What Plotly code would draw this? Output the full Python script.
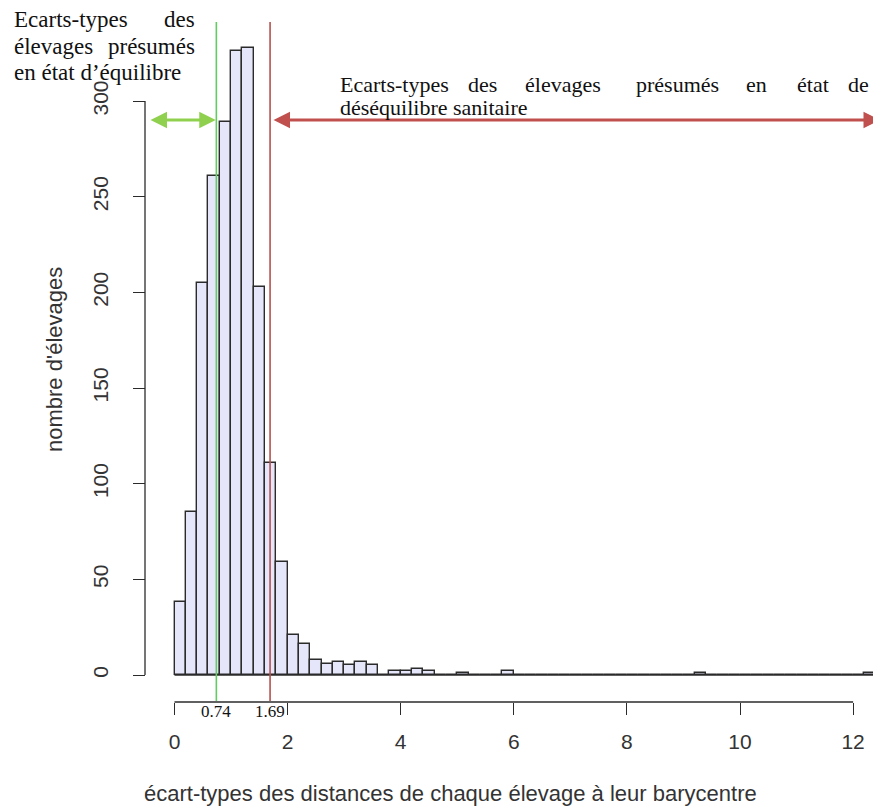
import numpy as np
import plotly.graph_objects as go

# ---------------- data ----------------
bin_start = 0.0
bin_width = 0.2
counts = [38, 85, 205, 261, 289, 326, 328, 203, 111, 59,
          21, 16, 8, 6, 7, 5, 7, 5, 0, 2,
          2, 3, 2, 0, 0, 1, 0, 0, 0, 2,
          0, 0, 0, 0, 0, 0, 0, 0, 0, 0,
          0, 0, 0, 0, 0, 0, 1, 0, 0, 0,
          0, 0, 0, 0, 0, 0, 0, 0, 0, 0,
          0, 1]
green_value = 0.74
red_value = 1.69
x_ticks = [0, 2, 4, 6, 8, 10, 12]
x_ticklabels = ["0", "2", "4", "6", "8", "10", "12"]
y_ticks = [0, 50, 100, 150, 200, 250, 300]
y_ticklabels = ["0", "50", "100", "150", "200", "250", "300"]
x_title = "écart-types des distances de chaque élevage à leur barycentre"
y_title = "nombre d'élevages"
left_lines = [["Ecarts-types", "des"], ["élevages", "présumés"], ["en état d’équilibre"]]
right_line1 = ["Ecarts-types", "des", "élevages", "présumés", "en", "état", "de"]
right_line2 = "déséquilibre sanitaire"

# ---------------- geometry (page pixels) ----------------
PAGE_W, PAGE_H = 881, 810
OFF = 8                      # default body margin of the html page
W, H = PAGE_W - OFF, PAGE_H - OFF
X0, XS = 174.5, 56.55        # page pixel of x=0, pixels per unit
Y0, YS = 675.0, 1.913        # page pixel of y=0, pixels per unit

def xv(px):
    return (px - X0) / XS

def yv(py):
    return (Y0 - py) / YS

def px_(px):
    return (px - OFF) / W

def py_(py):
    return 1 - (py - OFF) / H

counts = np.array(counts, dtype=float)
edges = bin_start + bin_width * np.arange(len(counts) + 1)
centers = (edges[:-1] + edges[1:]) / 2

fig = go.Figure()
fig.add_trace(go.Bar(
    x=centers, y=counts, width=bin_width,
    marker=dict(color="#E6E6FA", line=dict(color="#2b2b2b", width=1.4)),
    hoverinfo="skip", showlegend=False,
))

axis_color = "#2b2b2b"
txt_color = "#333333"
shapes = [
    dict(type="line", xref="x", yref="y", x0=edges[0], x1=edges[-1], y0=0, y1=0,
         line=dict(color=axis_color, width=1.4)),
    dict(type="line", xref="x", yref="paper", x0=x_ticks[0], x1=x_ticks[-1],
         y0=py_(702), y1=py_(702), line=dict(color=axis_color, width=1.3)),
    dict(type="line", xref="paper", yref="y", x0=px_(145), x1=px_(145),
         y0=y_ticks[0], y1=y_ticks[-1], line=dict(color=axis_color, width=1.3)),
    dict(type="line", xref="x", yref="y", x0=green_value, x1=green_value,
         y0=yv(701), y1=yv(22), line=dict(color="#62cc62", width=1.6)),
    dict(type="line", xref="x", yref="y", x0=red_value, x1=red_value,
         y0=yv(701), y1=yv(22), line=dict(color="#b5504e", width=1.6)),
]

annotations = []
# double-headed arrows
arrow_y = yv(120)
annotations.append(dict(x=green_value - 0.01, y=arrow_y, ax=xv(149), ay=arrow_y,
                        xref="x", yref="y", axref="x", ayref="y", text="",
                        showarrow=True, arrowside="end+start", arrowhead=2,
                        startarrowhead=2, arrowsize=1.1, startarrowsize=1.1,
                        arrowwidth=3, arrowcolor="#8fd14f", standoff=0, startstandoff=0))
annotations.append(dict(x=xv(880), y=arrow_y, ax=xv(272), ay=arrow_y,
                        xref="x", yref="y", axref="x", ayref="y", text="",
                        showarrow=True, arrowside="end+start", arrowhead=2,
                        startarrowhead=2, arrowsize=1.1, startarrowsize=1.1,
                        arrowwidth=3, arrowcolor="#c0504d", standoff=0, startstandoff=0))

def word(text, x, y, anchor, size):
    annotations.append(dict(text=text, x=px_(x), y=py_(y), xref="paper", yref="paper",
                            xanchor=anchor, yanchor="middle", showarrow=False,
                            font=dict(family="Liberation Serif", size=size, color="#111111")))

# left justified block
left_y = [20, 46, 72]
word(left_lines[0][0], 12, left_y[0], "left", 23)
word(left_lines[0][1], 197, left_y[0], "right", 23)
word(left_lines[1][0], 12, left_y[1], "left", 23)
word(left_lines[1][1], 197, left_y[1], "right", 23)
word(left_lines[2][0], 12, left_y[2], "left", 23)

# right justified block
r_pos = [(338, "left"), (483, "center"), (563, "center"), (677, "center"),
         (756, "center"), (813, "center"), (871, "right")]
for w_, (xp, anc) in zip(right_line1, r_pos):
    word(w_, xp, 85, anc, 22)
word(right_line2, 338, 107, "left", 22)

# threshold labels
for val in (green_value, red_value):
    annotations.append(dict(text=f"{val:.2f}", x=val, y=py_(711), xref="x", yref="paper",
                            xanchor="center", yanchor="middle", showarrow=False,
                            font=dict(family="Liberation Serif", size=17, color="#111111")))

# axis titles
annotations.append(dict(text=x_title, x=px_(450), y=py_(793), xref="paper", yref="paper",
                        xanchor="center", yanchor="middle", showarrow=False,
                        font=dict(family="Liberation Sans", size=22, color=txt_color)))
annotations.append(dict(text=y_title, x=px_(54), y=py_(360), xref="paper", yref="paper",
                        xanchor="center", yanchor="middle", showarrow=False, textangle=-90,
                        font=dict(family="Liberation Sans", size=22, color=txt_color)))

fig.update_layout(
    width=W, height=H,
    margin=dict(l=0, r=0, t=0, b=0),
    paper_bgcolor="white", plot_bgcolor="white",
    showlegend=False,
    bargap=0,
    xaxis=dict(range=[xv(OFF), xv(PAGE_W)], anchor="free", position=py_(702),
               showgrid=False, zeroline=False, showline=False,
               ticks="outside", ticklen=12, tickwidth=1.3, tickcolor=axis_color,
               tickvals=x_ticks, ticktext=x_ticklabels, ticklabelstandoff=9,
               tickfont=dict(family="Liberation Sans", size=21, color=txt_color)),
    yaxis=dict(range=[yv(PAGE_H), yv(OFF)], anchor="free", position=px_(145),
               showgrid=False, zeroline=False, showline=False,
               ticks="outside", ticklen=12, tickwidth=1.3, tickcolor=axis_color,
               tickvals=y_ticks, ticktext=y_ticklabels, tickangle=-90, ticklabelstandoff=17,
               tickfont=dict(family="Liberation Sans", size=21, color=txt_color)),
    shapes=shapes,
    annotations=annotations,
)

fig.write_html("out.html")
